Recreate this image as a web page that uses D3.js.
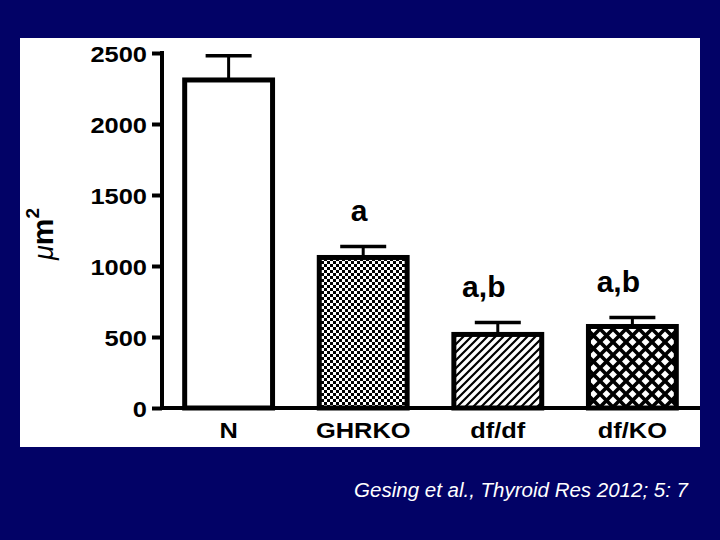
<!DOCTYPE html>
<html>
<head>
<meta charset="utf-8">
<script src="https://cdn.jsdelivr.net/npm/d3@7"></script>
<style>
  html, body { margin: 0; padding: 0; background: #020266; }
  svg { display: block; }
  text { font-family: "Liberation Sans", Arial, Helvetica, sans-serif; }
</style>
</head>
<body>
<script>
// ---- data ----
const categories = ["N", "GHRKO", "df/df", "df/KO"];
const means = [2310, 1060, 518, 574];
const sems = [170, 77, 84, 63];
const sigLabels = ["", "a", "a,b", "a,b"];
const patterns = ["none", "checker", "diag", "cross"];
const yTicks = [0, 500, 1000, 1500, 2000, 2500];
const yLabel = "m";
const citation = "Gesing et al., Thyroid Res 2012; 5: 7";

const W = 720, H = 540;
const svg = d3.select("body").append("svg").attr("width", W).attr("height", H);

svg.append("rect").attr("width", W).attr("height", H).attr("fill", "#020266");
// white panel
svg.append("rect").attr("x", 20).attr("y", 38).attr("width", 680).attr("height", 409).attr("fill", "#ffffff");

const defs = svg.append("defs");
// checkerboard
const pc = defs.append("pattern").attr("id", "checker").attr("patternUnits", "userSpaceOnUse")
  .attr("width", 6).attr("height", 6);
pc.append("rect").attr("width", 6).attr("height", 6).attr("fill", "#fff");
pc.append("rect").attr("x", 0).attr("y", 0).attr("width", 3).attr("height", 3).attr("fill", "#000");
pc.append("rect").attr("x", 3).attr("y", 3).attr("width", 3).attr("height", 3).attr("fill", "#000");
// diagonal
const pd = defs.append("pattern").attr("id", "diag").attr("patternUnits", "userSpaceOnUse")
  .attr("width", 8).attr("height", 8);
pd.append("rect").attr("width", 8).attr("height", 8).attr("fill", "#fff");
pd.append("path").attr("d", "M-2,10 L10,-2 M-6,6 L6,-6 M2,14 L14,2")
  .attr("stroke", "#000").attr("stroke-width", 2.2);
// crosshatch
const px = defs.append("pattern").attr("id", "cross").attr("patternUnits", "userSpaceOnUse")
  .attr("width", 13).attr("height", 13).attr("x", 2).attr("y", 4);
px.append("rect").attr("width", 13).attr("height", 13).attr("fill", "#fff");
px.append("path").attr("d", "M-3,-3 L16,16 M16,-3 L-3,16")
  .attr("stroke", "#000").attr("stroke-width", 3.6);

const y = d3.scaleLinear().domain([0, 2500]).range([408, 53]);
const x = d3.scaleBand().domain(categories).range([162, 699]).paddingInner(0.31).paddingOuter(0.15);

const sx = 1.13; // horizontal text stretch seen in reference

// bars
const g = svg.append("g");
categories.forEach((c, i) => {
  const x0 = x(c) + 2.5, bw = x.bandwidth() - 5;
  const cx = x(c) + x.bandwidth() / 2;
  // error bar
  g.append("line").attr("x1", cx).attr("x2", cx)
    .attr("y1", y(means[i])).attr("y2", y(means[i] + sems[i]))
    .attr("stroke", "#000").attr("stroke-width", 3);
  g.append("line").attr("x1", cx - 23).attr("x2", cx + 23)
    .attr("y1", y(means[i] + sems[i])).attr("y2", y(means[i] + sems[i]))
    .attr("stroke", "#000").attr("stroke-width", 3.5);
  g.append("rect").attr("x", x0).attr("y", y(means[i]))
    .attr("width", bw).attr("height", y(0) - y(means[i]))
    .attr("fill", patterns[i] === "none" ? "#fff" : `url(#${patterns[i]})`)
    .attr("stroke", "#000").attr("stroke-width", 5);
  if (sigLabels[i]) {
    g.append("text").attr("x", cx + (sigLabels[i].length > 1 ? -14 : -4))
      .attr("y", y(means[i] + sems[i]) - 26)
      .attr("text-anchor", "middle").attr("font-size", 30).attr("font-weight", "bold")
      .attr("fill", "#000").text(sigLabels[i]);
  }
});

// y axis
const yAxis = svg.append("g").attr("transform", "translate(162,0)")
  .call(d3.axisLeft(y).tickValues(yTicks).tickFormat(d3.format("d"))
    .tickSize(10).tickPadding(0).tickSizeOuter(0));
yAxis.select(".domain").attr("stroke", "#000").attr("stroke-width", 4)
  .attr("d", `M0,${y(2500) - 2}V${y(0) + 2}`);
yAxis.selectAll(".tick line").attr("stroke", "#000").attr("stroke-width", 4);
yAxis.selectAll(".tick text")
  .attr("font-size", 22.5).attr("font-weight", "bold").attr("fill", "#000")
  .attr("font-family", "Liberation Sans, Arial, sans-serif")
  .attr("x", -15 / sx).attr("dy", "0.36em")
  .attr("transform", `scale(${sx},1)`);

// x axis
const xAxis = svg.append("g").attr("transform", `translate(0,${y(0)})`)
  .call(d3.axisBottom(x).tickSize(0).tickPadding(0).tickSizeOuter(0));
xAxis.select(".domain").attr("stroke", "#000").attr("stroke-width", 4)
  .attr("d", "M160,0H700");
xAxis.selectAll(".tick text")
  .attr("font-size", 22.5).attr("font-weight", "bold").attr("fill", "#000")
  .attr("font-family", "Liberation Sans, Arial, sans-serif")
  .attr("y", 30).attr("dy", 0)
  .attr("transform", `scale(${sx},1)`)
  .attr("text-anchor", "middle");

// y label
const yl = svg.append("text").attr("transform", "translate(53,234) rotate(-90)")
  .attr("text-anchor", "middle").attr("fill", "#000").attr("font-size", 30);
yl.append("tspan").attr("font-style", "italic").attr("font-size", 27).text("\u03bc");
yl.append("tspan").attr("font-weight", "bold").text(yLabel);
yl.append("tspan").attr("font-weight", "bold").attr("font-size", 19).attr("dy", -14).text("2");

// citation
svg.append("text").attr("x", 688).attr("y", 497).attr("text-anchor", "end")
  .attr("font-size", 20.5).attr("font-style", "italic").attr("fill", "#fff")
  .text(citation);
</script>
</body>
</html>
